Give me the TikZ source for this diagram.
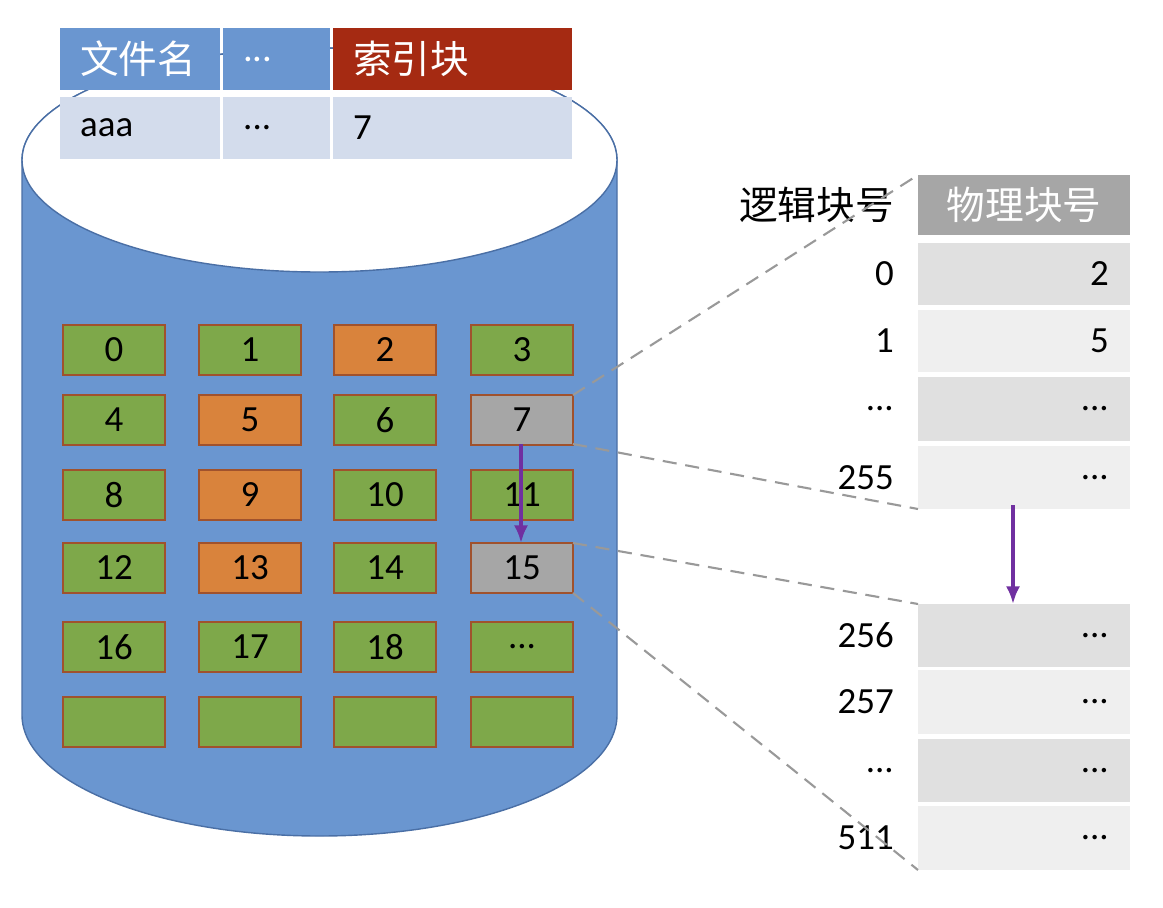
\documentclass[tikz,border=0pt]{standalone}
\usepackage{fontspec}
\usetikzlibrary{arrows.meta}
\setmainfont{Carlito}
\newfontfamily\cjk{Noto Sans CJK SC}
\definecolor{cylb}{HTML}{6A96D0}
\definecolor{cyle}{HTML}{4A6FA5}
\definecolor{hdrr}{HTML}{A52A12}
\definecolor{rowl}{HTML}{D3DCEC}
\definecolor{cg}{HTML}{7EA84A}
\definecolor{co}{HTML}{D9833C}
\definecolor{cgr}{HTML}{A6A6A6}
\definecolor{cbr}{HTML}{A0522D}
\definecolor{rA}{HTML}{E0E0E0}
\definecolor{rB}{HTML}{EFEFEF}
\definecolor{pur}{HTML}{7030A0}
\newcommand\dd{...}
\begin{document}
\begin{tikzpicture}[x=0.02cm,y=-0.02cm,
  dsh/.style={draw=gray!80,line width=1.2pt,dash pattern=on 8pt off 5pt},
  arr/.style={draw=pur,line width=2pt,-{Latex[length=10pt,width=8pt]}},
  rl/.style={anchor=east,font=\fontsize{21}{21}\selectfont}]
\useasboundingbox (0,0) rectangle (1163,907);
% cylinder
\fill[cylb,draw=cyle,line width=0.8pt] (22,160) -- (22,715) arc[start angle=180,end angle=0,x radius=297.5,y radius=121] -- (617,160) arc[start angle=0,end angle=-180,x radius=297.5,y radius=112] -- cycle;
\fill[white,draw=cyle,line width=0.8pt] (319.5,160) ellipse[x radius=297.5,y radius=112];
% top table
\foreach \xa/\xb/\c/\t [count=\i] in {60/220/cylb/{\cjk 文件名},223/330/cylb/{\dd},333/572/hdrr/{\cjk 索引块}}{
  \fill[\c] (\xa,28) rectangle (\xb,90);
  \node[anchor=west,text=white,font=\fontsize{22}{22}\selectfont] (h\i) at (\xa+14,59) {\t};
}
\foreach \xa/\xb/\t [count=\i] in {60/220/aaa,223/330/{\dd},333/572/7}{
  \fill[rowl] (\xa,97) rectangle (\xb,159);
  \node[anchor=west,font=\fontsize{21}{21}\selectfont] (r\i) at (\xa+14,128) {\t};
}
% grid
\def\gcell#1#2#3#4#5{\filldraw[fill=#3,draw=cbr,line width=1.2pt] (#1,#2) rectangle ++(102,50); \node[font=\fontsize{21}{21}\selectfont] (c#5) at (#1+51,#2+25) {#4};}
\gcell{63}{325}{cg}{0}{0}\gcell{199}{325}{cg}{1}{1}\gcell{334}{325}{co}{2}{2}\gcell{471}{325}{cg}{3}{3}
\gcell{63}{395}{cg}{4}{4}\gcell{199}{395}{co}{5}{5}\gcell{334}{395}{cg}{6}{6}\gcell{471}{395}{cgr}{7}{7}
\gcell{63}{470}{cg}{8}{8}\gcell{199}{470}{co}{9}{9}\gcell{334}{470}{cg}{10}{10}\gcell{471}{470}{cg}{11}{11}
\gcell{63}{543}{cg}{12}{12}\gcell{199}{543}{co}{13}{13}\gcell{334}{543}{cg}{14}{14}\gcell{471}{543}{cgr}{15}{15}
\gcell{63}{622}{cg}{16}{16}\gcell{199}{622}{cg}{17}{17}\gcell{334}{622}{cg}{18}{18}\gcell{471}{622}{cg}{\dd}{19}
\gcell{63}{697}{cg}{}{20}\gcell{199}{697}{cg}{}{21}\gcell{334}{697}{cg}{}{22}\gcell{471}{697}{cg}{}{23}
% right table
\fill[cgr] (918,175) rectangle (1130,235);
\node[text=white,font=\cjk\fontsize{22}{22}\selectfont] (ph) at (1024,205) {物理块号};
\node[rl,font=\cjk\fontsize{22}{22}\selectfont] (lh) at (900,205) {逻辑块号};
\foreach \ya/\yb/\c/\l/\v [count=\i] in {243/305/rA/0/2,310/372/rB/1/5,377/441/rA/{\dd}/{\dd},446/509/rB/255/{\dd},604/667/rA/256/{\dd},670/734/rB/257/{\dd},739/802/rA/{\dd}/{\dd},806/870/rB/511/{\dd}}{
  \fill[\c] (918,\ya) rectangle (1130,\yb);
  \node[rl] (v\i) at (1115,{(\ya+\yb)/2}) {\v};
  \node[rl] (l\i) at (900,{(\ya+\yb)/2}) {\l};
}
\coordinate (t1) at (918,175); \coordinate (t2) at (918,509);
\coordinate (t3) at (918,604); \coordinate (t4) at (918,870);
\coordinate (s1) at (573,395); \coordinate (s2) at (573,444);
\coordinate (s3) at (573,543); \coordinate (s4) at (573,593);
\draw[dsh] (s1) -- (t1);
\draw[dsh] (s2) -- (t2);
\draw[dsh] (s3) -- (t3);
\draw[dsh] (s4) -- (t4);
\coordinate (p1) at (521,444); \coordinate (p2) at (521,543);
\coordinate (q1) at (1013,505); \coordinate (q2) at (1013,604);
\draw[arr] (p1) -- (p2);
\draw[arr] (q1) -- (q2);
\end{tikzpicture}
\end{document}
